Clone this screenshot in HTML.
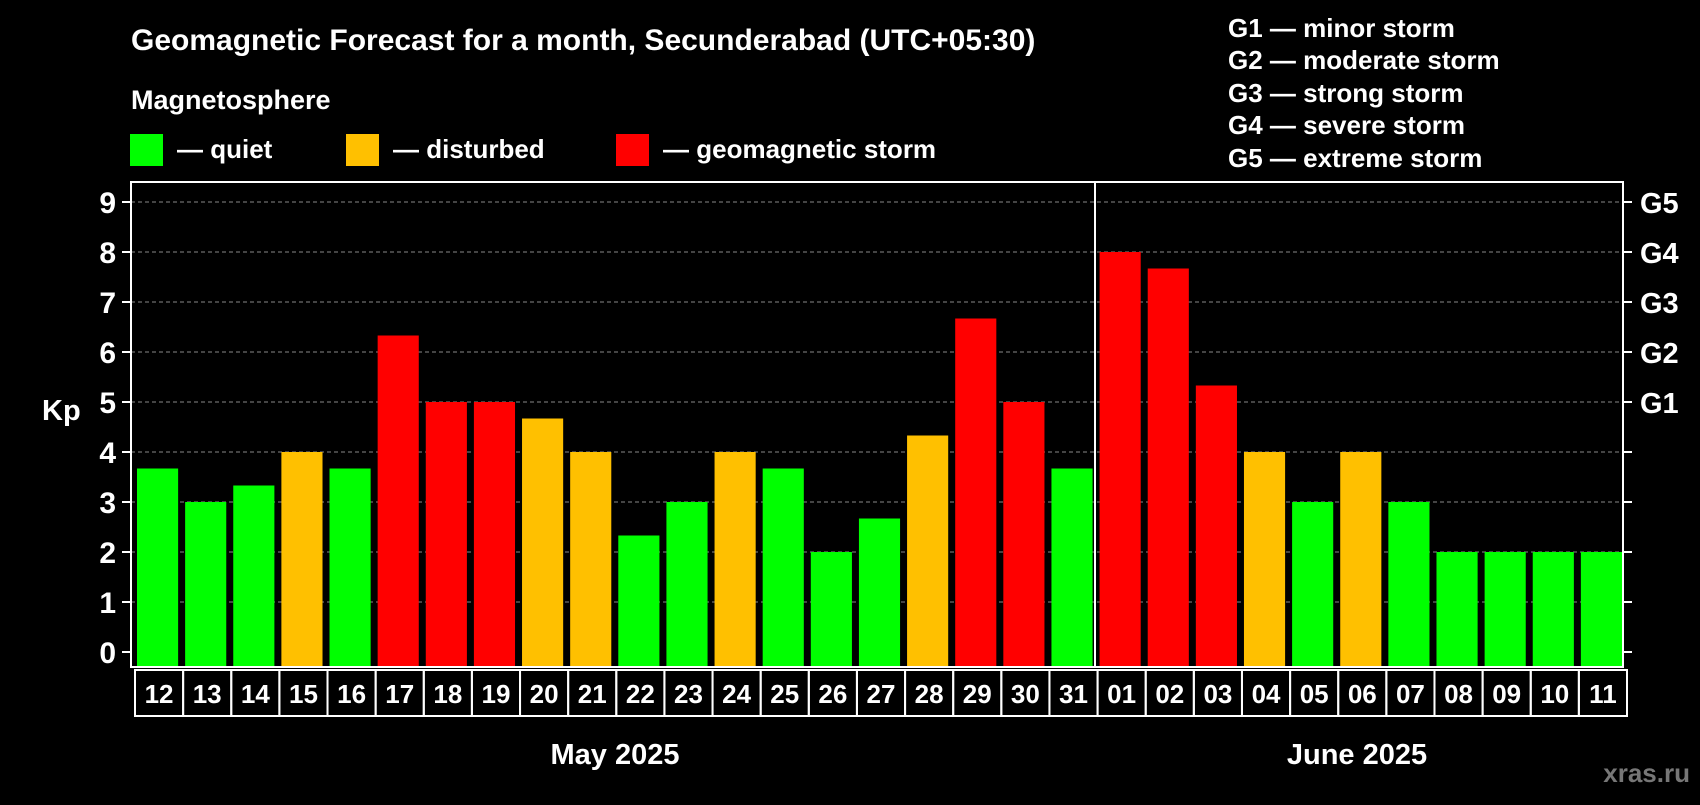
<!DOCTYPE html>
<html><head><meta charset="utf-8"><style>
body{margin:0;background:#000;width:1700px;height:800px;overflow:hidden}
svg text{font-family:"Liberation Sans",Arial,sans-serif;font-weight:bold;fill:#fff}
</style></head><body>
<svg id="c" width="1700" height="800">
<text x="131" y="50" font-size="30">Geomagnetic Forecast for a month, Secunderabad (UTC+05:30)</text>
<text x="131" y="109" font-size="27">Magnetosphere</text>
<rect x="130" y="134" width="33" height="32" fill="#00ff00"/>
<text x="177" y="158" font-size="26">— quiet</text>
<rect x="346" y="134" width="33" height="32" fill="#ffc000"/>
<text x="393" y="158" font-size="26">— disturbed</text>
<rect x="616" y="134" width="33" height="32" fill="#ff0000"/>
<text x="663" y="158" font-size="26">— geomagnetic storm</text>
<g font-size="26">
<text x="1228" y="37">G1 — minor storm</text>
<text x="1228" y="69">G2 — moderate storm</text>
<text x="1228" y="102">G3 — strong storm</text>
<text x="1228" y="134">G4 — severe storm</text>
<text x="1228" y="167">G5 — extreme storm</text>
</g>
<text x="42" y="420" font-size="29">Kp</text>
<text x="615" y="764" font-size="29" text-anchor="middle">May 2025</text>
<text x="1357" y="764" font-size="29" text-anchor="middle">June 2025</text>
<text x="1690" y="782" font-size="26" text-anchor="end" style="fill:#777">xras.ru</text>
<g id="g"></g>
</svg>
<script>
const mayDays=["12","13","14","15","16","17","18","19","20","21","22","23","24","25","26","27","28","29","30","31"];
const mayKp=[3.67,3,3.33,4,3.67,6.33,5,5,4.67,4,2.33,3,4,3.67,2,2.67,4.33,6.67,5,3.67];
const junDays=["01","02","03","04","05","06","07","08","09","10","11"];
const junKp=[8,7.67,5.33,4,3,4,3,2,2,2,2];
const yTicks=[0,1,2,3,4,5,6,7,8,9];
const gLabels=["G1","G2","G3","G4","G5"];
const NS="http://www.w3.org/2000/svg";
const g=document.getElementById('g');
const L=131,R=1623,T=182,B=667,DIV=1095;
const y=v=>652-v*50;
function mk(tag,a,txt){const e=document.createElementNS(NS,tag);for(const k in a)e.setAttribute(k,a[k]);if(txt!=null)e.textContent=txt;g.appendChild(e);return e;}
yTicks.forEach(t=>{
 if(t>0){const l=mk('line',{x1:L,x2:R,y1:y(t),y2:y(t),stroke:'#888','stroke-dasharray':'4,3','stroke-width':1});
 }
 const a=mk('line',{x1:L-9,x2:L,y1:y(t),y2:y(t),stroke:'#fff','stroke-width':2});
 
 const b=mk('line',{x1:R,x2:R+9,y1:y(t),y2:y(t),stroke:'#fff','stroke-width':2});
 
 const tx=mk('text',{x:116,y:y(t)+11,'font-size':30,'text-anchor':'end'},String(t));
 
});
gLabels.forEach((s,i)=>{const tx=mk('text',{x:1640,y:y(5+i)+11,'font-size':29},s);
 });
const col=v=>v>=5?'#ff0000':(v>=4?'#ffc000':'#00ff00');
const P=(R-L)/31;
function month(days,vals,startIdx,name){
 days.forEach((d,i)=>{
  const k=startIdx+i, cx=L+k*P;
  const r=mk('rect',{x:cx+6,y:y(vals[i]),width:P-7,height:B-1-y(vals[i]),fill:col(vals[i])});
  
  const bxl=mk('rect',{x:cx+4,y:670,width:P,height:46,fill:'none',stroke:'#fff','stroke-width':2});
  
  const t=mk('text',{x:cx+4+P/2,y:703,'font-size':26,'text-anchor':'middle'},d);
  
 });
}
month(mayDays,mayKp,0,'may');
month(junDays,junKp,mayDays.length,'june');
const fr=mk('rect',{x:L,y:T,width:R-L,height:B-T,fill:'none',stroke:'#fff','stroke-width':2});

const dv=mk('line',{x1:DIV,x2:DIV,y1:T,y2:B,stroke:'#fff','stroke-width':2});

</script>
</body></html>
